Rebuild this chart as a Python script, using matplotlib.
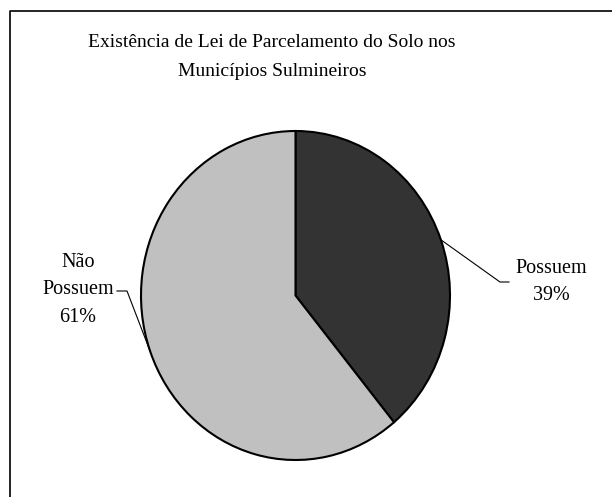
import matplotlib.pyplot as plt
import numpy as np
from matplotlib.lines import Line2D

# Data
labels = ["Possuem", "Não\nPossuem"]
shares = [39, 61]
colors = ["#333333", "#c0c0c0"]
title = "Existência de Lei de Parcelamento do Solo nos\nMunicípios Sulmineiros"

W, H = 612, 497
fig = plt.figure(figsize=(W / 100, H / 100), dpi=100)
plt.rcParams["font.family"] = ["Liberation Serif", "DejaVu Serif"]


def fx(px):
    return px / W


def fy(py):
    return 1 - py / H


# chart frame: only top and left edges fall inside the picture
fig.lines.append(Line2D([fx(9.5), fx(9.5), 1.0], [0.0, fy(10.5), fy(10.5)],
                        transform=fig.transFigure, color="black", linewidth=1.2))

fig.text(fx(272), fy(57), title, ha="center", va="center", fontsize=14,
         linespacing=1.9)

# pie axes (slightly taller than wide, as in the original)
ax = fig.add_axes([fx(141), fy(460), 309 / W, 329 / H])
wedges, _ = ax.pie(shares, colors=colors, startangle=90, counterclock=False,
                   wedgeprops=dict(edgecolor="black", linewidth=1.5))
ax.set_aspect("auto")
ax.set_xlim(-1, 1)
ax.set_ylim(-1, 1)
ax.axis("off")

# labels with leader lines
label_pos = [(551, 282), (78, 290)]
elbows = [((500, 282), (509, 282)), ((127, 291), (117, 291))]
for w, lab, share, (tx, ty), (e1, e2) in zip(wedges, labels, shares, label_pos, elbows):
    mid = np.deg2rad((w.theta1 + w.theta2) / 2)
    p = ax.transData.transform((np.cos(mid), np.sin(mid)))
    p = fig.transFigure.inverted().transform(p)
    xs = [p[0], fx(e1[0]), fx(e2[0])]
    ys = [p[1], fy(e1[1]), fy(e2[1])]
    fig.lines.append(Line2D(xs, ys, transform=fig.transFigure, color="black",
                            linewidth=0.8))
    fig.text(fx(tx), fy(ty), f"{lab}\n{share}%", ha="center", va="center",
             fontsize=14.5, linespacing=1.6)

fig.savefig("out.png", dpi=100)
